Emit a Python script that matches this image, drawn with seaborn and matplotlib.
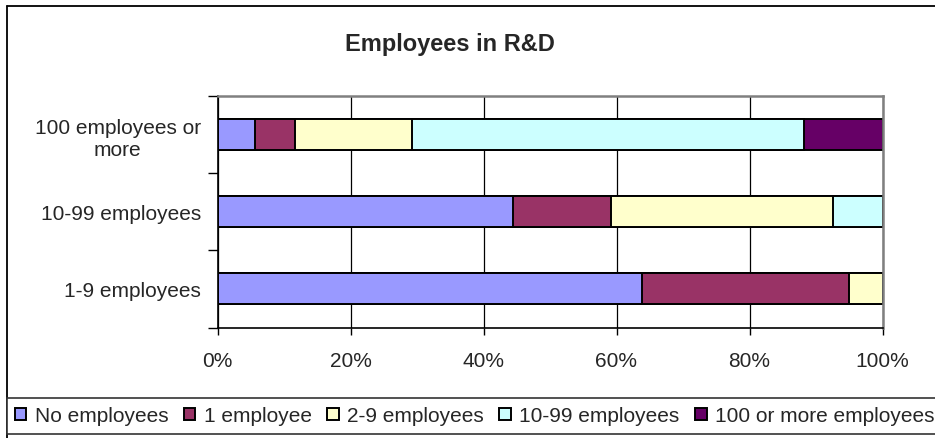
import matplotlib
matplotlib.use("Agg")
import matplotlib.pyplot as plt
from matplotlib.patches import Patch
from matplotlib.lines import Line2D
import numpy as np
import pandas as pd
import seaborn as sns

# Firm size classes (top to bottom) and R&D staff shares in percent
categories = ["100 employees or\nmore", "10-99 employees", "1-9 employees"]
series = ["No employees", "1 employee", "2-9 employees",
          "10-99 employees", "100 or more employees"]
no_employees = [5.7, 44.4, 63.8]
one_employee = [6.0, 14.8, 31.1]
two_to_nine = [17.6, 33.3, 5.1]
ten_to_99 = [58.9, 7.5, 0.0]
hundred_plus = [11.8, 0.0, 0.0]
colors = ["#9999FF", "#993366", "#FFFFCC", "#CCFFFF", "#660066"]
x_ticks = [0, 20, 40, 60, 80, 100]
x_tick_labels = ["0%", "20%", "40%", "60%", "80%", "100%"]

sns.set_style("white")
plt.rcParams["font.family"] = ["Liberation Sans", "DejaVu Sans"]

values = np.array([no_employees, one_employee, two_to_nine, ten_to_99, hundred_plus])
cumulative = np.cumsum(values, axis=0)

W, H = 935, 439
fig = plt.figure(figsize=(W / 100, H / 100), dpi=100)
ax = fig.add_axes([217.5 / W, 1 - 328.5 / H, 665 / W, 231.5 / H])

# Stack by drawing cumulative totals from the outermost segment inwards
for i in reversed(range(len(series))):
    df = pd.DataFrame({"category": categories, "share": cumulative[i]})
    sns.barplot(data=df, x="share", y="category", order=categories,
                orient="h", color=colors[i], saturation=1, width=0.4,
                edgecolor="black", linewidth=1.4, errorbar=None, ax=ax)

ax.set_xlim(0, 100)
ax.set_ylim(2.5, -0.5)
ax.set_xlabel("")
ax.set_ylabel("")
ax.set_axisbelow(True)
ax.xaxis.grid(True, color="black", linewidth=0.9)
ax.yaxis.grid(False)

ax.set_xticks(x_ticks)
ax.set_xticklabels(x_tick_labels, fontsize=15)
ax.tick_params(axis="x", direction="out", length=5, width=1, color="black",
               pad=12, bottom=True)

ax.set_yticks([-0.5, 0.5, 1.5, 2.5])
ax.set_yticklabels([])
ax.tick_params(axis="y", which="major", direction="out", length=7, width=1,
               color="black", left=True)
ax.set_yticks(range(len(categories)), minor=True)
ax.set_yticklabels(categories, minor=True, fontsize=15, multialignment="center")
ax.tick_params(axis="y", which="minor", length=0, pad=12)

for side in ("top", "right"):
    ax.spines[side].set_color("#808080")
    ax.spines[side].set_linewidth(1.8)
for side in ("left", "bottom"):
    ax.spines[side].set_color("black")
    ax.spines[side].set_linewidth(1.2)

fig.text(450 / W, 1 - 51 / H, "Employees in R&D", ha="center",
         va="baseline", fontsize=17, fontweight="bold")

# Chart frame (left and top edges)
fig.add_artist(Line2D([6.5 / W, 6.5 / W], [0, 1 - 7 / H],
                      transform=fig.transFigure, color="black", lw=1.3))
fig.add_artist(Line2D([6.5 / W, 1], [1 - 7 / H, 1 - 7 / H],
                      transform=fig.transFigure, color="black", lw=1.3))

handles = [Patch(facecolor=c, edgecolor="black", linewidth=1.4) for c in colors]
leg = fig.legend(handles, series, loc="upper left",
                 bbox_to_anchor=(6.5 / W, 1 - 399 / H), ncol=5, frameon=True,
                 fancybox=False, edgecolor="#333333", framealpha=1,
                 fontsize=15, handlelength=0.55, handleheight=0.55,
                 handletextpad=0.4, columnspacing=0.75, borderpad=0.4,
                 borderaxespad=0)
leg.get_frame().set_linewidth(1.2)

fig.savefig("out.png", dpi=100)
